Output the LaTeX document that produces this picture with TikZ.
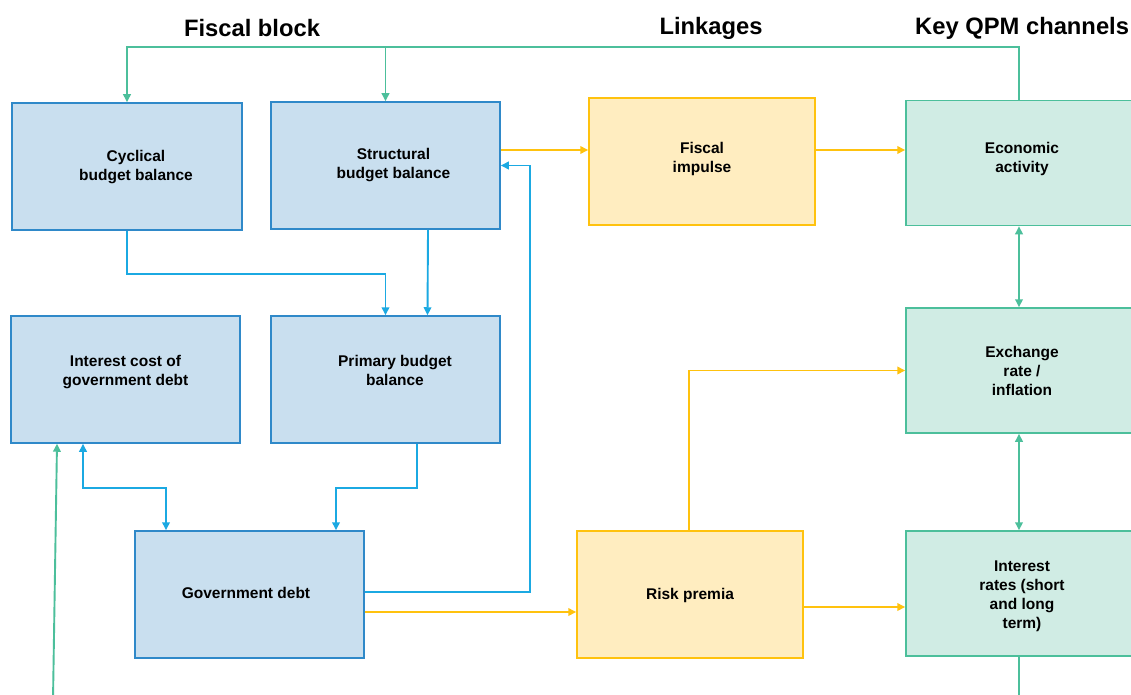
\documentclass[tikz,border=0pt]{standalone}
\usepackage{fontspec}
\setmainfont{Liberation Sans}
\usetikzlibrary{arrows.meta}
\definecolor{bfill}{HTML}{C9DFEF}
\definecolor{bdraw}{HTML}{2F89C9}
\definecolor{bline}{HTML}{1BA9E2}
\definecolor{yfill}{HTML}{FFEDC0}
\definecolor{ydraw}{HTML}{FFC20E}
\definecolor{gfill}{HTML}{D0ECE4}
\definecolor{gdraw}{HTML}{4CBF9B}
\tikzset{
  boxbase/.style={rectangle, line width=1.5pt, minimum width=229pt, minimum height=127pt, inner sep=0pt},
  txt/.style={align=center, inner sep=0pt, font=\fontsize{15.5}{19}\selectfont\bfseries},
  bbox/.style={boxbase, draw=bdraw, fill=bfill},
  ybox/.style={boxbase, draw=ydraw, fill=yfill, minimum width=226pt},
  gbox/.style={boxbase, draw=gdraw, fill=gfill, minimum width=232pt, minimum height=125pt},
  title/.style={font=\fontsize{23.75}{28}\selectfont\bfseries, inner sep=0pt},
  conn/.style={line width=1.9pt, -{Triangle[length=8pt,width=7.5pt]}},
  dconn/.style={line width=1.9pt, {Triangle[length=8pt,width=7.5pt]}-{Triangle[length=8pt,width=7.5pt]}},
  bar/.style={conn, draw=bline},
  yar/.style={conn, draw=ydraw},
  gar/.style={conn, draw=gdraw},
}
\begin{document}
\begin{tikzpicture}[x=1pt,y=-1pt]
\path[use as bounding box, fill=white] (0,0) rectangle (1131,695);
\clip (0,0) rectangle (1131,695);
% titles
\node[title] (t1) at (252,28) {Fiscal block};
\node[title] (t2) at (711,28) {Linkages};
\node[title, anchor=west] (t3) at (915,28) {Key QPM channels};
% boxes
\node[bbox, minimum width=230pt, label={[txt, xshift=9pt, yshift=-1pt]center:Cyclical\\budget balance}] (cyc) at (127,166.5) {};
\node[bbox, label={[txt, xshift=8pt]center:Structural\\budget balance}] (str) at (385.5,165.5) {};
\node[ybox, label={[txt, yshift=3pt]center:Fiscal\\impulse}] (fi) at (702,161.5) {};
\node[gbox, label={[txt, yshift=4pt]center:Economic\\activity}] (econ) at (1022,163) {};
\node[bbox, label={[txt, yshift=7pt]center:Interest cost of\\government debt}] (intc) at (125.5,379.5) {};
\node[bbox, label={[txt, xshift=9.5pt, yshift=9pt]center:Primary budget\\balance}] (prim) at (385.5,379.5) {};
\node[gbox, label={[txt]center:Exchange\\rate /\\inflation}] (ex) at (1022,370.5) {};
\node[bbox, label={[txt, xshift=-3.5pt, yshift=2pt]center:Government debt}] (gov) at (249.5,594.5) {};
\node[ybox, label={[txt, yshift=-1pt]center:Risk premia}] (risk) at (690,594.5) {};
\node[gbox, label={[txt, yshift=-3pt]center:Interest\\rates (short\\and long\\term)}] (intr) at (1022,593.5) {};
% helper coordinates
\coordinate (topline) at (0,47);
\coordinate (gbend) at (530,592);
\coordinate (gbot) at (53,700);
% green top feedback
\draw[gar] ([xshift=-3pt]econ.north) |- (topline -| cyc.north) -- (cyc.north);
\draw[gar] (topline -| str.north) -- (str.north);
% yellow top
\draw[yar] ([yshift=15.5pt]str.east) coordinate (a) -- (a -| fi.west);
\draw[yar] ([yshift=11.5pt]fi.east) coordinate (b) -- (b -| econ.west);
% blue fiscal block
\draw[bar] (cyc.south) -- ++(0,43) -| (prim.north);
\draw[bar] ([xshift=42.5pt]str.south) -- ([xshift=42pt]prim.north);
\draw[bar] ([xshift=31.5pt]prim.south) -- ++(0,44) -| ([xshift=86.5pt]gov.north);
\draw[dconn, draw=bline] ([xshift=-42.5pt]intc.south) -- ++(0,44) -| ([xshift=-83.5pt]gov.north);
\draw[bar] ([yshift=2.5pt]gov.east) -- (gbend) |- (str.east);
% yellow lower
\draw[yar] ([yshift=-17.5pt]gov.east) coordinate (c) -- (c -| risk.west);
\draw[yar] ([xshift=-1pt]risk.north) |- (ex.west);
\draw[yar] ([yshift=-12.5pt]risk.east) coordinate (d) -- (d -| intr.west);
% green right column
\draw[dconn, draw=gdraw] ([xshift=-3pt]econ.south) -- ([xshift=-3pt]ex.north);
\draw[dconn, draw=gdraw] ([xshift=-3pt]ex.south) -- ([xshift=-3pt]intr.north);
\draw[line width=1.9pt, draw=gdraw] ([xshift=-3pt]intr.south) -- ++(0,60);
\draw[gar] (gbot) -- ([xshift=-68.5pt]intc.south);
\end{tikzpicture}
\end{document}
